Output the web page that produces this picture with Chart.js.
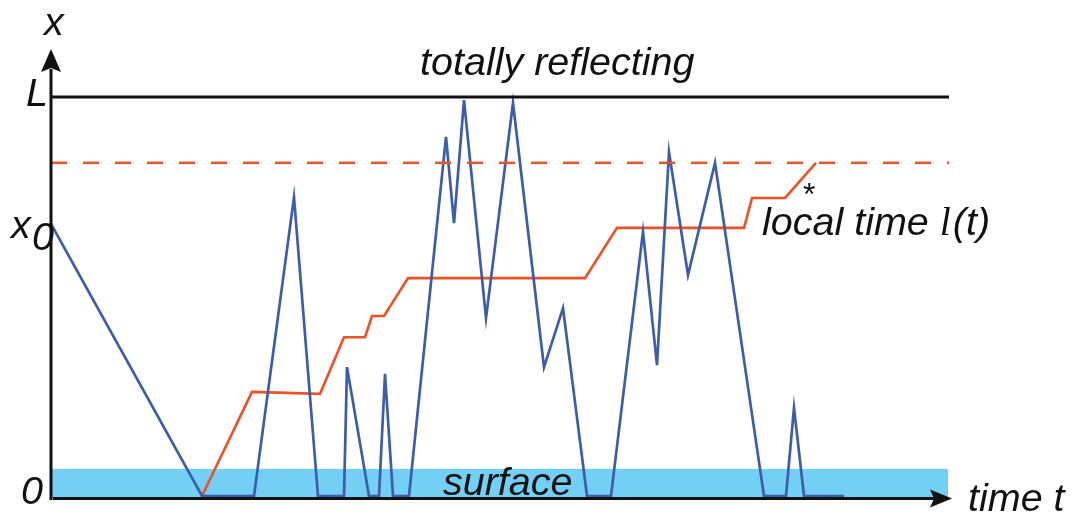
<!DOCTYPE html>
<html>
<head>
<meta charset="utf-8">
<script src="https://cdn.jsdelivr.net/npm/chart.js@4/dist/chart.umd.min.js"></script>
<style>
  html, body { margin: 0; padding: 0; background: #fff; }
  #wrap { width: 1073px; height: 515px; position: relative; }
</style>
</head>
<body>
<div id="wrap"><canvas id="walk"></canvas></div>
<script>
// reflected walk x(t) (time units, x in units of L)
const pathT = [0, 1.51, 2.03, 2.43, 2.67, 2.93, 2.96, 3.18, 3.28, 3.34, 3.42, 3.58, 3.95, 4.03, 4.13, 4.35,
  4.62, 4.93, 5.12, 5.36, 5.60, 5.92, 6.06, 6.18, 6.37, 6.64, 7.13, 7.35, 7.43, 7.53, 7.93];
const pathX = [0.682, 0, 0, 0.749, 0, 0, 0.323, 0, 0, 0.306, 0, 0, 0.90, 0.684, 0.992, 0.446,
  0.985, 0.323, 0.471, 0, 0, 0.662, 0.328, 0.862, 0.554, 0.835, 0, 0, 0.221, 0, 0];

// local time l(t), grows only while the walk sits on the surface
const localT = [1.51, 2.01, 2.69, 2.93, 3.14, 3.21, 3.33, 3.57, 5.34, 5.66, 6.93, 7.01, 7.34, 7.65];
const localL = [0, 0.261, 0.256, 0.398, 0.398, 0.451, 0.451, 0.546, 0.546, 0.672, 0.672, 0.747, 0.747, 0.835];

const x0 = 0.682;        // starting point
const wallL = 1;         // totally reflecting wall
const threshold = 0.835; // stopping level for l(t)
const tEnd = 8.98;
const surfaceDepth = 0.068;

const BLUE = '#3b5dab';
const ORANGE = '#ef5124';
const FONT = '"Liberation Sans", Arial, sans-serif';
const SIZE = '39.5px ';

const toPts = (ts, vs) => ts.map((t, i) => ({ x: t, y: vs[i] }));

// surface band, axes with arrows and the labels
const decor = {
  id: 'decor',
  beforeDatasetsDraw(chart) {
    const { ctx, scales: { x, y } } = chart;
    ctx.save();
    ctx.fillStyle = '#74cff4';
    const left = x.getPixelForValue(0.01), right = x.getPixelForValue(8.97);
    const top = y.getPixelForValue(surfaceDepth), bot = y.getPixelForValue(-0.005);
    ctx.fillRect(left, top, right - left, bot - top);
    ctx.restore();
  },
  afterDatasetsDraw(chart) {
    const { ctx, scales: { x, y } } = chart;
    const ox = x.getPixelForValue(0);
    const oy = y.getPixelForValue(-0.006);
    const topY = y.getPixelForValue(y.max);
    ctx.save();
    ctx.strokeStyle = '#111';
    ctx.fillStyle = '#111';
    ctx.lineWidth = 3;
    // y axis
    ctx.beginPath();
    ctx.moveTo(ox, oy + 1.5);
    ctx.lineTo(ox, topY + 20);
    ctx.stroke();
    ctx.beginPath();
    ctx.moveTo(ox, topY);
    ctx.lineTo(ox - 10, topY + 23);
    ctx.lineTo(ox, topY + 19);
    ctx.lineTo(ox + 10, topY + 23);
    ctx.closePath();
    ctx.fill();
    // t axis
    const endX = x.getPixelForValue(9.01);
    ctx.beginPath();
    ctx.moveTo(ox + 2, oy);
    ctx.lineTo(endX - 18, oy);
    ctx.stroke();
    ctx.beginPath();
    ctx.moveTo(endX, oy);
    ctx.lineTo(endX - 22, oy - 9);
    ctx.lineTo(endX - 18, oy);
    ctx.lineTo(endX - 22, oy + 9);
    ctx.closePath();
    ctx.fill();

    // labels
    ctx.font = 'italic ' + SIZE + FONT;
    ctx.textBaseline = 'alphabetic';
    ctx.textAlign = 'left';
    ctx.fillText('x', ox - 7, 35);
    ctx.fillText('L', ox - 25, y.getPixelForValue(wallL) + 9);
    ctx.fillText('x', ox - 40, y.getPixelForValue(x0) + 14);
    ctx.fillText('0', ox - 19, y.getPixelForValue(x0) + 26);
    ctx.fillText('0', ox - 30, oy + 6);
    ctx.fillText('totally reflecting', 420, 75);
    ctx.fillText('surface', 443, 495);
    ctx.fillText('time t', 968, 511);
    const lx = 762, ly = 235;
    ctx.fillText('local time ', lx, ly);
    let w = ctx.measureText('local time ').width;
    ctx.font = 'italic ' + SIZE + '"Liberation Serif", serif';
    ctx.fillText('l', lx + w, ly);
    w += ctx.measureText('l').width;
    ctx.font = 'italic ' + SIZE + FONT;
    ctx.fillText('(t)', lx + w + 2, ly);
    ctx.font = '32px ' + FONT;
    ctx.fillText('*', 803, 205);
    ctx.restore();
  }
};

new Chart(document.getElementById('walk'), {
  type: 'line',
  data: {
    datasets: [
      {
        label: 'wall',
        data: toPts([0, tEnd], [wallL, wallL]),
        borderColor: '#111',
        borderWidth: 3
      },
      {
        label: 'threshold',
        data: toPts([0, tEnd], [threshold, threshold]),
        borderColor: ORANGE,
        borderWidth: 2.5,
        borderDash: [16, 16]
      },
      {
        label: 'x(t)',
        data: toPts(pathT, pathX),
        borderColor: BLUE,
        borderWidth: 2.7
      },
      {
        label: 'l(t)',
        data: toPts(localT, localL),
        borderColor: ORANGE,
        borderWidth: 2.6
      }
    ]
  },
  options: {
    responsive: true,
    maintainAspectRatio: false,
    animation: false,
    layout: { padding: { left: 51, right: 122, top: 49, bottom: 19 } },
    elements: { point: { radius: 0 }, line: { tension: 0, borderJoinStyle: 'miter', fill: false } },
    datasets: { line: { clip: false } },
    scales: {
      x: { type: 'linear', min: 0, max: 9, display: false },
      y: { type: 'linear', min: 0, max: 1.1203, display: false }
    },
    plugins: { legend: { display: false }, tooltip: { enabled: false } }
  },
  plugins: [decor]
});
</script>
</body>
</html>
